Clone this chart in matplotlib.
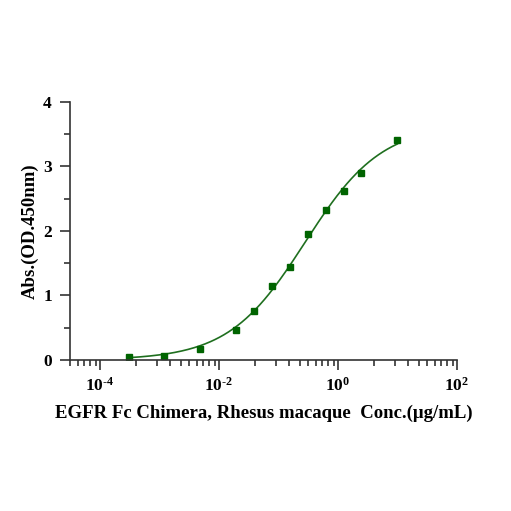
import numpy as np
import matplotlib
matplotlib.use("Agg")
import matplotlib.pyplot as plt
from matplotlib.ticker import FixedLocator, NullFormatter

plt.rcParams['font.family'] = ['Liberation Serif', 'DejaVu Serif']
plt.rcParams['font.weight'] = 'bold'
plt.rcParams['mathtext.fontset'] = 'custom'
plt.rcParams['mathtext.rm'] = 'Liberation Serif:bold'
plt.rcParams['mathtext.bf'] = 'Liberation Serif:bold'
plt.rcParams['mathtext.it'] = 'Liberation Serif:bold'

# concentration (ug/mL) and OD450
conc = [0.00030518, 0.0012207, 0.0048828, 0.019531, 0.039063, 0.078125,
        0.15625, 0.3125, 0.625, 1.25, 2.5, 10.0]
od = [0.05, 0.06, 0.17, 0.465, 0.76, 1.15, 1.44, 1.96, 2.33, 2.62, 2.90, 3.41]

x_ticks = [1e-4, 1e-2, 1, 1e2]
x_labels = [r'$\mathbf{10^{\text{-}4}}$', r'$\mathbf{10^{\text{-}2}}$',
            r'$\mathbf{10^{0}}$', r'$\mathbf{10^{2}}$']
y_ticks = [0, 1, 2, 3, 4]

x = np.array(conc)
y = np.array(od)


def four_pl(xx, bot, top, logc, hill):
    return bot + (top - bot) / (1 + 10 ** ((logc - np.log10(xx)) * hill))


# crude grid search for the 4PL fit
B = np.linspace(0.0, 0.1, 11)[:, None, None, None]
T = np.linspace(3.4, 5.0, 33)[None, :, None, None]
C = np.linspace(-1.2, 0.6, 37)[None, None, :, None]
H = np.linspace(0.5, 1.3, 33)[None, None, None, :]
sse = np.zeros((11, 33, 37, 33))
for xi, yi in zip(x, y):
    sse += (four_pl(xi, B, T, C, H) - yi) ** 2
i = np.unravel_index(np.argmin(sse), sse.shape)
p = (B.ravel()[i[0]], T.ravel()[i[1]], C.ravel()[i[2]], H.ravel()[i[3]])

xs = np.logspace(np.log10(x.min()), np.log10(x.max()), 300)

fig = plt.figure(figsize=(5.11, 5.11), dpi=100)
ax = fig.add_axes([0.137, 0.2955, 0.757, 0.5049])

ax.plot(xs, four_pl(xs, *p), color='#1f6f1f', lw=1.2)
ax.plot(x, y, 's', color='#006400', ms=4.5, ls='none')

ax.set_xscale('log')
ax.set_xlim(10 ** -4.5, 1e2)
ax.set_ylim(0, 4)

ax.xaxis.set_major_locator(FixedLocator(x_ticks))
ax.set_xticklabels(x_labels)
mult = [4, 9, 15, 23, 32, 43, 54, 68, 86]
minors = [10.0 ** e * m for e in (-6, -4, -2, 0) for m in mult]
ax.xaxis.set_minor_locator(FixedLocator(minors))
ax.xaxis.set_minor_formatter(NullFormatter())

ax.set_yticks(y_ticks)
ax.set_yticks([0.5, 1.5, 2.5, 3.5], minor=True)

for s in ('top', 'right'):
    ax.spines[s].set_visible(False)
for s in ('left', 'bottom'):
    ax.spines[s].set_linewidth(1.2)
    ax.spines[s].set_color('#333333')

ax.tick_params(which='major', length=7, width=1.2, color='#333333', labelsize=12.5)
ax.tick_params(which='minor', length=4, width=1.2, color='#333333')
ax.tick_params(axis='y', pad=6)
ax.tick_params(axis='x', pad=5)

ax.set_ylabel('Abs.(OD.450nm)', fontsize=13.5, fontweight='bold', labelpad=3)
ax.set_xlabel('EGFR Fc Chimera, Rhesus macaque  Conc.(\u03bcg/mL)', fontsize=13.5,
              fontweight='bold', labelpad=7)

fig.savefig('out.png', dpi=100)
